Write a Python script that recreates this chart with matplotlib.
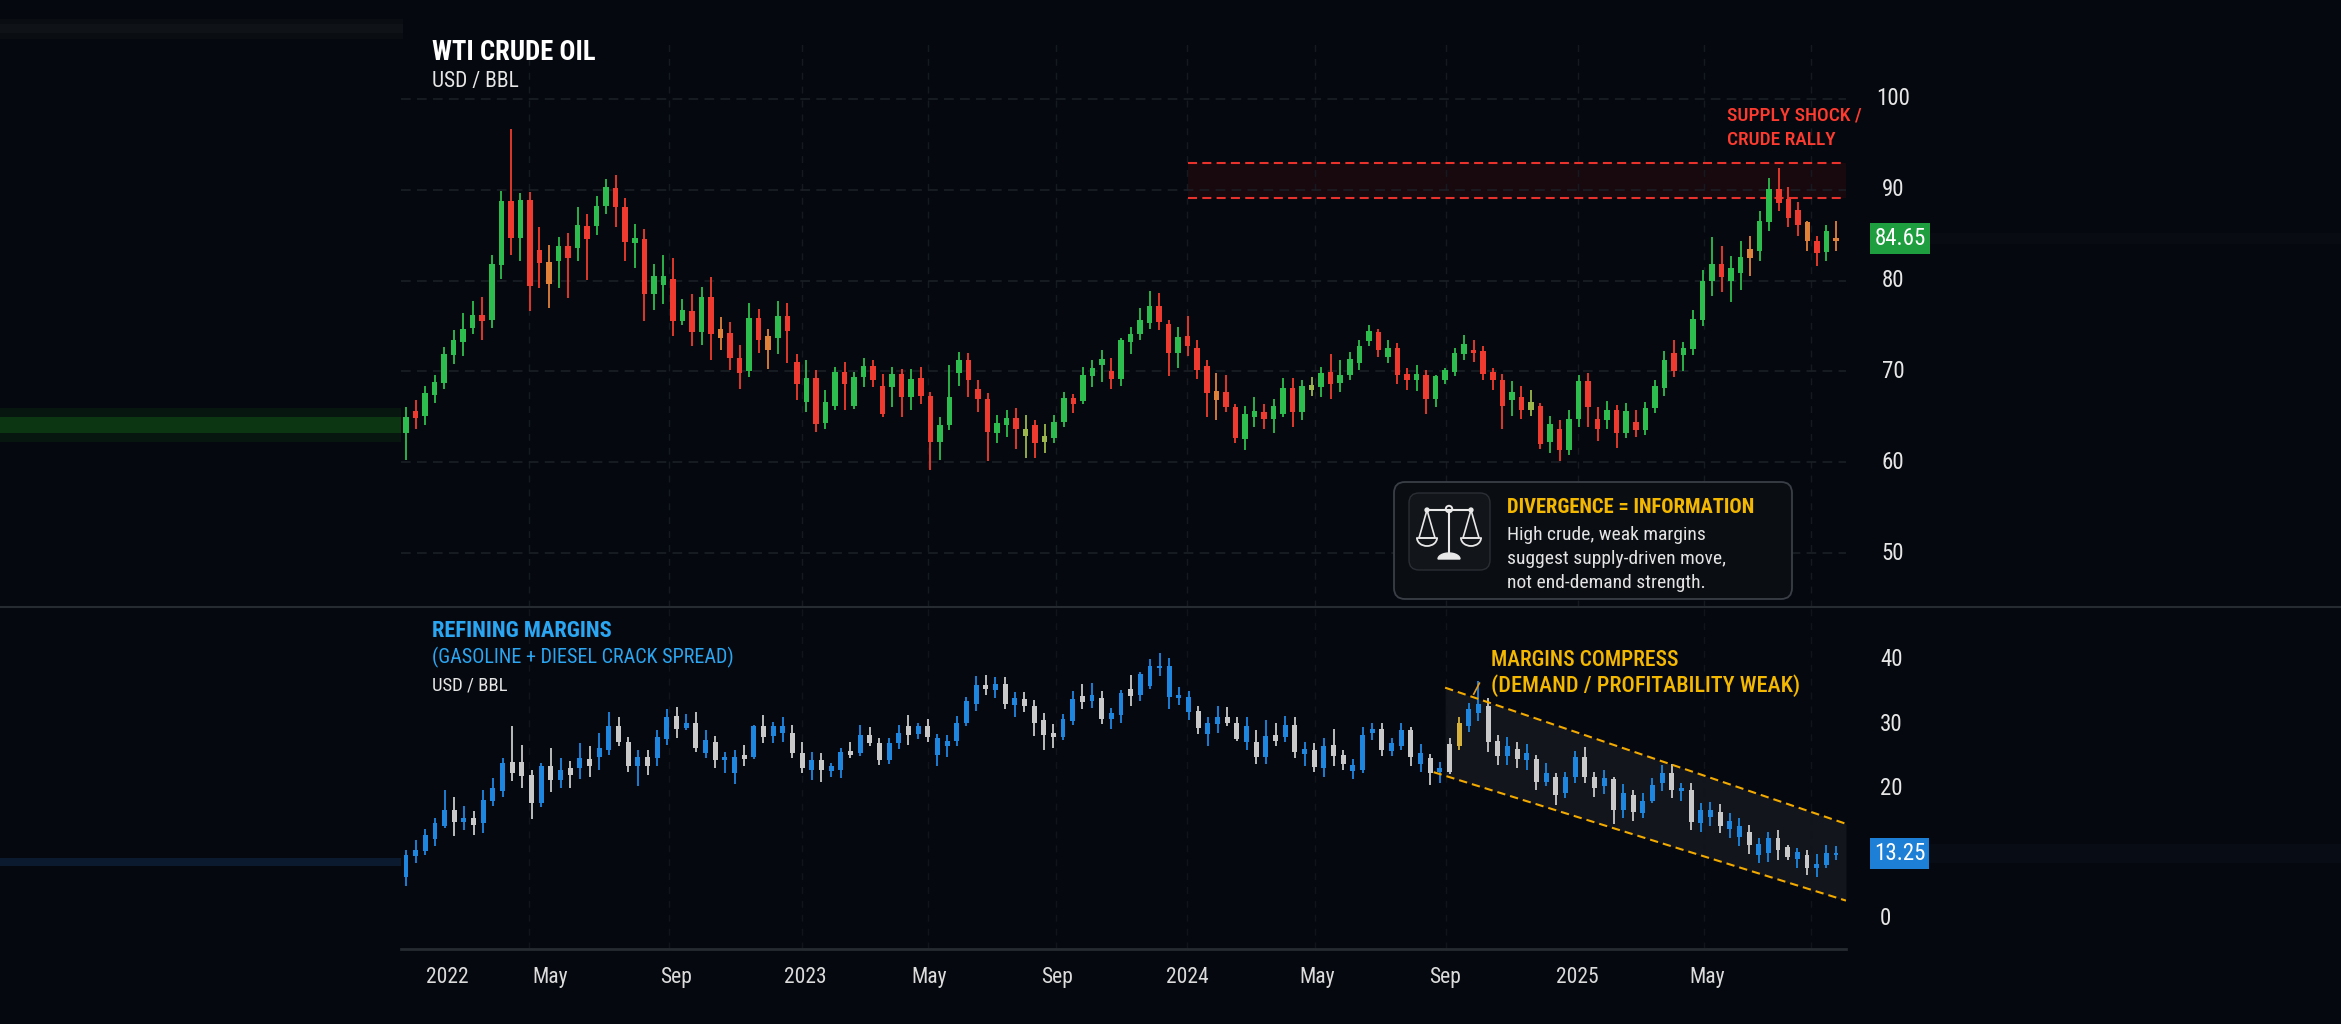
import matplotlib
matplotlib.use("Agg")
import matplotlib.pyplot as plt
from matplotlib import font_manager
from matplotlib.patches import FancyBboxPatch, Circle, Arc, Polygon
from matplotlib.transforms import blended_transform_factory
import numpy as np

W, H = 2341, 1024

# ---------------- data ----------------
# WTI crude, weekly candles (USD/bbl)
crude_open = [63.2, 65.6, 65.1, 67.4, 68.7, 71.8, 73.2, 74.8, 76.2, 75.7,
              81.7, 88.7, 84.7, 88.9, 83.4, 82.0, 82.2, 83.8, 83.6, 86.0,
              86.0, 88.2, 90.2, 88.1, 84.1, 84.6, 78.5, 79.5, 80.2, 75.6,
              76.7, 74.3, 78.2, 74.7, 74.2, 71.5, 70.0, 75.9, 73.9, 73.7,
              76.1, 71.0, 66.6, 69.3, 64.3, 66.2, 69.9, 66.2, 69.4, 70.6,
              68.4, 68.3, 69.7, 67.2, 69.3, 67.3, 62.2, 64.1, 69.8, 71.3,
              68.1, 67.0, 63.2, 64.1, 64.9, 62.9, 64.1, 62.2, 62.7, 64.4,
              67.1, 66.7, 69.5, 70.7, 70.0, 69.2, 73.2, 74.1, 75.3, 77.2,
              75.2, 72.0, 73.9, 72.6, 70.6, 67.8, 67.7, 66.1, 62.6, 65.0,
              65.5, 64.8, 65.3, 68.2, 65.5, 68.0, 68.3, 69.9, 68.7, 69.6,
              70.9, 73.3, 74.3, 71.6, 72.6, 69.7, 69.0, 69.6, 67.0, 69.1,
              69.9, 71.9, 72.3, 72.2, 69.9, 69.1, 66.8, 67.2, 65.8, 66.2,
              62.2, 63.7, 61.3, 64.8, 68.9, 64.8, 64.7, 65.7, 63.2, 64.4,
              63.6, 66.0, 68.2, 72.0, 71.8, 72.5, 75.7, 79.9, 81.8, 80.0,
              80.8, 82.5, 83.3, 86.4, 90.1, 89.0, 87.8, 86.4, 84.4, 83.1,
              84.4]
crude_high = [66.1, 66.8, 68.4, 69.6, 72.7, 74.6, 76.4, 77.7, 78.2, 82.8,
              89.9, 96.7, 89.6, 89.7, 85.9, 83.9, 84.8, 85.2, 88.1, 87.3,
              89.3, 91.2, 91.6, 89.1, 86.2, 85.7, 81.8, 82.8, 82.5, 78.0,
              78.5, 79.3, 80.4, 76.0, 75.4, 72.9, 77.5, 76.9, 74.7, 77.7,
              77.5, 71.9, 71.2, 70.1, 67.9, 70.5, 71.0, 69.9, 71.5, 71.2,
              69.7, 70.5, 70.3, 70.3, 70.5, 67.7, 65.0, 70.7, 72.1, 72.0,
              69.0, 67.6, 65.2, 65.7, 66.0, 65.2, 64.7, 64.2, 65.2, 67.7,
              67.5, 70.5, 71.2, 72.3, 71.5, 73.7, 74.9, 77.0, 78.9, 78.6,
              75.7, 74.9, 76.1, 73.4, 71.3, 69.8, 69.6, 66.4, 66.2, 67.2,
              66.4, 67.0, 69.3, 69.3, 69.1, 69.4, 70.5, 71.9, 71.2, 72.1,
              73.4, 75.1, 74.7, 73.4, 73.1, 70.4, 70.7, 70.2, 69.6, 70.4,
              72.6, 74.0, 73.4, 72.8, 70.4, 69.7, 68.9, 68.4, 68.0, 66.5,
              65.1, 64.6, 65.8, 69.6, 69.8, 66.1, 66.7, 66.3, 66.5, 65.7,
              66.6, 69.0, 72.2, 73.4, 73.2, 76.8, 81.2, 84.8, 83.8, 82.7,
              84.3, 84.9, 87.6, 91.3, 92.4, 90.3, 88.6, 86.5, 84.9, 86.1,
              86.6]
crude_low = [60.2, 63.7, 64.1, 66.5, 68.1, 70.8, 71.7, 74.1, 73.4, 74.8,
             80.2, 82.8, 82.1, 76.7, 79.2, 77.0, 79.2, 78.1, 82.1, 80.1,
             85.0, 87.3, 85.9, 82.2, 81.4, 75.5, 76.8, 77.4, 73.9, 75.1,
             72.8, 72.9, 71.2, 72.3, 70.1, 68.1, 69.4, 72.0, 70.3, 71.9,
             70.9, 66.8, 65.5, 63.3, 63.7, 65.7, 65.7, 65.9, 68.3, 68.3,
             65.0, 66.1, 65.0, 65.8, 66.4, 59.1, 60.2, 63.5, 68.4, 67.2,
             65.5, 60.1, 62.1, 62.8, 61.5, 60.5, 60.5, 61.0, 62.1, 63.9,
             65.4, 66.4, 68.3, 68.8, 68.1, 68.4, 71.9, 73.5, 74.7, 74.6,
             69.5, 70.4, 71.7, 69.2, 65.0, 64.7, 65.5, 62.1, 61.3, 63.9,
             63.7, 63.2, 65.0, 63.9, 64.6, 67.3, 67.2, 67.0, 67.7, 69.1,
             70.1, 72.8, 71.6, 70.9, 68.6, 68.0, 67.8, 65.3, 66.1, 68.6,
             69.5, 71.3, 71.0, 69.0, 67.9, 63.7, 65.1, 64.8, 65.1, 61.5,
             61.0, 60.1, 60.8, 63.9, 63.9, 62.3, 63.7, 61.6, 62.7, 62.8,
             63.0, 65.4, 67.3, 69.4, 70.0, 71.8, 75.0, 78.3, 78.7, 77.6,
             79.0, 80.5, 82.2, 85.5, 87.7, 85.9, 84.9, 83.2, 81.6, 82.2,
             83.3]
crude_close = [65.0, 64.9, 67.6, 68.8, 71.9, 73.4, 74.7, 76.2, 75.6, 81.8,
               88.7, 84.7, 88.9, 79.4, 81.9, 79.6, 83.8, 82.5, 86.1, 84.6,
               88.2, 90.3, 88.1, 84.2, 84.7, 78.5, 80.5, 80.5, 75.6, 76.8,
               74.3, 78.2, 74.1, 73.7, 71.5, 69.8, 75.9, 73.5, 72.4, 76.1,
               74.4, 68.6, 69.3, 64.2, 66.6, 69.9, 68.6, 69.4, 70.6, 69.1,
               65.3, 69.7, 67.2, 69.2, 67.3, 62.2, 64.1, 67.2, 71.3, 69.0,
               67.0, 63.3, 64.3, 64.9, 63.7, 63.7, 62.1, 62.9, 64.4, 67.1,
               66.4, 69.6, 70.4, 71.4, 69.2, 73.5, 74.1, 75.7, 77.2, 75.4,
               72.0, 73.8, 72.8, 70.1, 67.6, 66.9, 66.1, 62.7, 65.3, 65.6,
               64.8, 66.2, 68.2, 65.5, 68.4, 68.5, 69.8, 68.6, 69.6, 71.4,
               72.8, 74.4, 72.3, 72.6, 69.6, 69.0, 69.7, 67.0, 69.5, 70.1,
               72.0, 73.0, 72.0, 69.7, 69.0, 66.2, 67.7, 65.8, 66.6, 62.0,
               64.2, 61.3, 64.8, 68.9, 66.1, 63.7, 65.7, 63.2, 65.6, 63.6,
               66.0, 68.4, 71.3, 70.0, 72.6, 75.8, 79.9, 81.8, 80.4, 81.4,
               82.6, 83.5, 86.6, 90.1, 88.5, 86.9, 86.1, 84.4, 83.0, 85.5,
               84.65]
crude_orange = [15, 33, 38, 85, 141, 147, 150]   # near-doji candles drawn orange
crude_olive = [65, 67, 95, 118]

# Refining margins (gasoline + diesel crack spread), weekly candles (USD/bbl)
margin_open = [6.3, 9.6, 10.4, 12.2, 14.3, 16.7, 14.9, 15.5, 14.7, 18.2,
               19.7, 24.2, 24.2, 22.2, 17.8, 23.6, 21.4, 23.2, 23.2, 24.7,
               24.9, 26.1, 29.8, 27.3, 23.6, 24.9, 24.8, 27.8, 31.3, 29.4,
               30.3, 25.5, 27.3, 24.5, 22.4, 25.3, 24.9, 29.7, 28.2, 28.6,
               28.7, 25.5, 22.9, 24.5, 22.8, 22.9, 25.9, 25.5, 28.4, 27.1,
               24.5, 27.1, 29.7, 28.5, 29.7, 25.3, 26.6, 27.4, 30.3, 33.2,
               36.1, 35.3, 36.3, 33.0, 34.0, 32.9, 30.7, 28.6, 28.1, 30.6,
               34.4, 33.6, 34.1, 30.8, 31.5, 35.5, 34.6, 35.9, 38.7, 34.2,
               34.1, 32.0, 32.1, 28.5, 30.1, 31.1, 30.2, 27.3, 27.3, 25.0,
               28.4, 28.1, 29.9, 25.4, 26.1, 23.2, 26.8, 25.3, 22.8, 22.9,
               28.6, 29.3, 25.9, 26.7, 29.1, 23.9, 24.8, 22.7, 27.0, 26.6,
               29.7, 31.7, 32.9, 27.4, 25.1, 26.2, 24.5, 24.6, 21.1, 21.8,
               19.3, 21.9, 25.0, 21.8, 20.5, 21.5, 16.7, 19.1, 16.3, 18.2,
               21.0, 22.4, 19.7, 19.9, 14.7, 15.6, 16.5, 13.8, 12.5, 13.3,
               9.8, 10.0, 12.4, 11.0, 9.1, 9.7, 7.7, 8.2, 9.7]
margin_high = [10.5, 12.1, 13.8, 15.5, 19.9, 18.7, 17.3, 16.6, 19.9, 21.7,
               24.8, 29.7, 26.8, 22.9, 24.0, 26.4, 24.8, 24.4, 27.2, 26.6,
               28.6, 32.0, 31.1, 28.0, 26.0, 26.1, 29.1, 32.4, 32.7, 31.6,
               32.0, 29.1, 28.2, 25.8, 26.1, 26.8, 29.9, 31.5, 30.4, 31.2,
               29.9, 27.3, 25.8, 25.5, 24.0, 26.3, 27.3, 29.9, 29.6, 27.9,
               27.9, 29.9, 31.5, 30.3, 30.8, 28.5, 28.4, 31.3, 34.3, 37.5,
               37.6, 37.4, 37.3, 35.1, 35.1, 33.8, 31.7, 30.0, 31.6, 35.2,
               36.3, 36.4, 35.2, 32.5, 35.3, 37.7, 38.2, 40.2, 41.0, 40.3,
               35.8, 35.2, 32.8, 31.1, 32.8, 32.7, 31.1, 31.1, 29.1, 30.7,
               30.3, 31.3, 31.1, 27.3, 27.1, 27.9, 29.3, 26.0, 24.6, 29.6,
               30.3, 30.3, 27.9, 30.3, 29.6, 26.9, 25.4, 24.2, 27.9, 31.1,
               33.3, 36.8, 34.1, 28.4, 28.0, 27.3, 26.9, 25.3, 24.1, 22.4,
               22.7, 25.9, 26.5, 22.7, 22.9, 21.9, 20.8, 19.9, 19.3, 21.7,
               23.7, 23.9, 20.9, 21.0, 17.8, 18.0, 17.7, 16.3, 15.5, 14.4,
               12.4, 13.3, 13.6, 11.3, 10.8, 10.5, 9.9, 11.3, 11.1]
margin_low = [4.9, 8.5, 9.7, 11.2, 13.9, 12.7, 13.7, 12.9, 13.2, 17.3,
              18.8, 21.3, 20.1, 15.3, 17.2, 19.6, 20.1, 20.1, 21.5, 21.9,
              22.9, 25.3, 26.6, 22.7, 20.4, 22.2, 23.5, 26.8, 27.9, 29.1,
              25.8, 24.8, 23.2, 22.5, 20.8, 23.5, 24.6, 27.2, 27.2, 27.3,
              24.8, 22.5, 21.4, 21.1, 21.9, 21.7, 24.8, 25.1, 26.6, 23.7,
              23.9, 26.2, 26.8, 27.7, 27.3, 23.6, 25.0, 26.6, 29.8, 32.1,
              34.6, 34.1, 32.4, 31.1, 32.0, 28.2, 26.1, 26.3, 27.6, 29.9,
              32.4, 32.5, 30.0, 29.3, 30.3, 32.9, 33.6, 35.5, 37.5, 32.4,
              33.0, 30.7, 28.5, 26.6, 28.6, 29.7, 27.4, 26.0, 23.9, 23.9,
              26.6, 27.3, 24.8, 23.5, 22.7, 21.8, 23.5, 22.9, 21.5, 22.4,
              27.6, 25.1, 25.1, 26.1, 23.5, 22.7, 20.6, 21.0, 22.3, 26.1,
              28.9, 30.6, 25.8, 23.7, 23.7, 23.2, 23.0, 19.9, 20.4, 17.5,
              18.6, 21.0, 21.0, 18.8, 19.2, 14.6, 15.5, 15.1, 15.5, 17.8,
              19.7, 18.6, 18.2, 13.6, 13.4, 14.2, 13.1, 12.4, 11.1, 9.9,
              8.5, 8.7, 9.0, 9.0, 7.7, 6.7, 6.4, 7.7, 9.0]
margin_close = [9.8, 10.5, 12.9, 14.7, 16.8, 14.9, 15.5, 14.4, 18.3, 20.1,
                24.1, 22.5, 22.0, 17.8, 23.5, 21.4, 22.9, 22.2, 24.8, 23.5,
                26.3, 29.8, 27.3, 23.6, 24.9, 23.6, 28.0, 31.2, 29.3, 30.3,
                26.3, 27.6, 24.5, 25.0, 24.9, 24.6, 29.7, 28.1, 29.7, 29.8,
                25.5, 23.2, 24.5, 22.9, 23.5, 25.8, 25.3, 28.3, 27.1, 24.5,
                27.1, 28.6, 28.4, 29.7, 28.0, 27.9, 27.4, 30.3, 33.6, 36.1,
                35.5, 36.3, 33.2, 34.1, 32.8, 30.2, 28.4, 28.1, 30.8, 33.9,
                33.5, 34.5, 30.8, 31.7, 34.9, 34.4, 37.8, 39.0, 39.1, 39.1,
                34.6, 34.3, 29.4, 30.2, 31.1, 30.2, 27.7, 29.7, 25.0, 28.2,
                27.5, 29.9, 25.8, 26.2, 23.4, 26.6, 25.1, 23.9, 23.7, 28.4,
                29.3, 26.0, 27.1, 29.1, 24.9, 25.6, 22.4, 23.2, 22.7, 30.2,
                32.4, 33.2, 27.3, 25.1, 26.7, 24.6, 25.6, 21.1, 22.4, 19.1,
                21.9, 25.0, 21.8, 20.1, 21.7, 16.7, 19.4, 16.4, 18.2, 20.6,
                22.5, 19.8, 20.1, 14.9, 16.7, 16.7, 14.3, 15.0, 14.2, 11.3,
                11.5, 12.4, 10.5, 9.5, 10.3, 7.7, 8.4, 10.0, 10.0]
margin_gold = [109]
margin_last_label = "13.25"

# axes / annotation values
crude_ticks = [50, 60, 70, 80, 90, 100]
margin_ticks = [0, 20, 30, 40]          # the 10 level sits under the last-price tag
date_labels = ["2022", "May", "Sep", "2023", "May", "Sep", "2024", "May", "Sep", "2025", "May"]
date_label_pos = [4.3, 15.1, 28.3, 41.9, 54.9, 68.3, 82.0, 95.6, 109.0, 122.9, 136.5]
grid_pos = [12.9, 27.6, 41.5, 54.8, 68.2, 81.9, 95.4, 109.1, 122.9, 136.2, 147.4]

zone_start, zone_lo, zone_hi = 82.0, 89.1, 92.9          # supply-shock zone
chan_up_x, chan_up_y = [109.0, 151.05], [35.7, 14.6]     # falling channel (margins)
chan_lo_x, chan_lo_y = [107.8, 151.05], [22.6, 2.7]
margin_band = (8.1, 9.3)                                  # faint band left of margin panel

# ---------------- style ----------------
installed = {f.name for f in font_manager.fontManager.ttflist}
FONT = next((f for f in ["Roboto Condensed", "Liberation Sans Narrow", "Roboto"] if f in installed),
            "DejaVu Sans")
plt.rcParams["font.family"] = [FONT, "DejaVu Sans"]
plt.rcParams["lines.scale_dashes"] = False

BG = "#05080e"
GREEN, RED, ORANGE, OLIVE = "#2dbd4e", "#ef3a2f", "#e0813a", "#9cb84c"
BLUE, GREY, GOLD = "#1f86e0", "#c9c9c9", "#d6b13c"
TXT = "#e6e6e6"
RED_TXT, GOLD_TXT, BLUE_TXT = "#ff3b30", "#f5b800", "#2aa6f2"
GRID = "#1c2027"

fig = plt.figure(figsize=(W / 100, H / 100), dpi=100, facecolor=BG)

left, width = 401 / W, 1445 / W
ax1 = fig.add_axes([left, 1 - 607 / H, width, 565 / H])
ax2 = fig.add_axes([left, 1 - 949 / H, width, 342 / H])
XMIN, XMAX = -0.524, 151.05
RIGHT_X0, RIGHT_X1 = 1.0574, 1.3426      # band to the right of the price tags (axes fraction)


def draw_candles(ax, x, o, h, l, c, colors, w, min_h):
    o, h, l, c = (np.asarray(v, dtype=float) for v in (o, h, l, c))
    ax.vlines(x, l, h, colors=colors, linewidth=1.3, zorder=3)
    ax.bar(x, np.maximum(np.abs(c - o), min_h), w, bottom=np.minimum(o, c),
           color=colors, linewidth=0, zorder=4)


# --- top panel: crude ---
xc = np.arange(len(crude_close))
col_c = np.where(np.array(crude_close) >= np.array(crude_open), GREEN, RED).astype(object)
col_c[crude_orange] = ORANGE
col_c[crude_olive] = OLIVE
draw_candles(ax1, xc, crude_open, crude_high, crude_low, crude_close, list(col_c), 0.58, 0.22)

ax1.fill_between([zone_start, XMAX], zone_lo, zone_hi, color="#ff2020", alpha=0.08, lw=0, zorder=1)
ax1.hlines([zone_lo, zone_hi], zone_start, XMAX, colors="#e8322b", linestyles=(0, (6.5, 3.8)),
           linewidth=1.5, zorder=2)

ax1.set_xlim(XMIN, XMAX)
ax1.set_ylim(44.08, 106.24)
ax1.set_yticks(crude_ticks)
ax1.tick_params(axis="y", length=0, labelleft=False, labelright=False)
ax1.set_xticks(grid_pos, minor=True)
ax1.set_xticks([])
ax1.tick_params(axis="x", which="both", length=0, labelbottom=False)
ax1.grid(axis="y", which="major", color=GRID, linestyle=(0, (7, 4.5)), linewidth=1.1)
ax1.grid(axis="x", which="minor", color="#151920", linestyle=(0, (5, 5)), linewidth=1.0)

blend1 = blended_transform_factory(ax1.transAxes, ax1.transData)
for v in crude_ticks:
    ax1.text(1.0325, v, f"{v}", transform=blend1, ha="center", va="center", fontsize=16.5, color=TXT)

# green band projecting the first candle's body to the left edge
ax1.axhspan(crude_open[0] - 1.0, crude_close[0] + 1.0, xmin=-0.278, xmax=0.0, clip_on=False,
            color="#09200e", alpha=0.6, lw=0, zorder=0)
ax1.axhspan(crude_open[0], crude_close[0], xmin=-0.278, xmax=0.0, clip_on=False,
            color="#0c3512", lw=0, zorder=0)
ax1.axhspan(crude_close[-1] - 0.6, crude_close[-1] + 0.6, xmin=RIGHT_X0, xmax=RIGHT_X1, clip_on=False,
            color="#080b11", lw=0, zorder=0)

ax1.text(1.0374, crude_close[-1], f"{crude_close[-1]:.2f}", transform=blend1, ha="center", va="center",
         fontsize=16.5, color="white", zorder=6,
         bbox=dict(boxstyle="square,pad=0.18", fc="#1f9e3f", ec="none"))

# --- bottom panel: refining margins ---
xm = np.linspace(0, len(crude_close) - 1, len(margin_close))
col_m = np.where(np.array(margin_close) >= np.array(margin_open), BLUE, GREY).astype(object)
col_m[margin_gold] = GOLD
draw_candles(ax2, xm, margin_open, margin_high, margin_low, margin_close, list(col_m), 0.52, 0.3)

cx = np.linspace(chan_up_x[0], chan_up_x[1], 50)
ax2.fill_between(cx, np.interp(cx, chan_lo_x, chan_lo_y), np.interp(cx, chan_up_x, chan_up_y),
                 color="#ffffff", alpha=0.055, lw=0, zorder=1)
for xs, ys in ((chan_up_x, chan_up_y), (chan_lo_x, chan_lo_y)):
    ax2.plot(xs, ys, color="#f2a900", linestyle=(0, (6, 3.6)), linewidth=1.5, zorder=5)
ax2.plot([112.0, 112.6], [34.7, 36.4], color="#e39b1c", linewidth=1.2, zorder=5)

ax2.set_xlim(XMIN, XMAX)
ax2.set_ylim(-4.8, 48.2)
ax2.set_yticks(margin_ticks)
ax2.tick_params(axis="y", length=0, labelleft=False, labelright=False)
ax2.set_xticks(date_label_pos)
ax2.set_xticklabels(date_labels)
ax2.set_xticks([4.3] + grid_pos, minor=True)
ax2.tick_params(axis="x", which="major", length=0, pad=13, labelsize=15.5, labelcolor="#dcdcdc")
ax2.tick_params(axis="x", which="minor", length=0)
ax2.grid(axis="x", which="minor", color="#11151b", linestyle=(0, (5, 5)), linewidth=1.0)

blend2 = blended_transform_factory(ax2.transAxes, ax2.transData)
for v in margin_ticks:
    ax2.text(1.0235, v, f"{v}", transform=blend2, ha="left", va="center", fontsize=16.5, color=TXT)

ax2.axhspan(*margin_band, xmin=-0.278, xmax=0.0, clip_on=False, color="#0c1a30", lw=0, zorder=0)
ax2.axhspan(margin_close[-1] - 1.4, margin_close[-1] + 1.4, xmin=RIGHT_X0, xmax=RIGHT_X1,
            clip_on=False, color="#070c15", lw=0, zorder=0)

ax2.text(1.037, margin_close[-1], margin_last_label, transform=blend2, ha="center", va="center",
         fontsize=16.5, color="white", zorder=6,
         bbox=dict(boxstyle="square,pad=0.18", fc="#1e7fd6", ec="none"))

for ax in (ax1, ax2):
    ax.set_facecolor("none")
    for s in ax.spines.values():
        s.set_visible(False)
ax2.spines["bottom"].set_visible(True)
ax2.spines["bottom"].set_color("#262a31")
ax2.spines["bottom"].set_linewidth(2)

# ---------------- overlay (pixel coordinates) ----------------
ov = fig.add_axes([0, 0, 1, 1], zorder=10)
ov.set_xlim(0, W)
ov.set_ylim(H, 0)
ov.axis("off")
ov.patch.set_alpha(0)

ov.add_patch(plt.Rectangle((0, 19), 403, 20, color="#0a0d12", lw=0))
ov.add_patch(plt.Rectangle((0, 24), 403, 9, color="#0f1318", lw=0))
ov.plot([0, W], [607, 607], color="#262a31", linewidth=1.5)

ov.text(432, 60, "WTI CRUDE OIL", fontsize=19.2, fontweight="bold", color="white", va="baseline")
ov.text(432, 86.5, "USD / BBL", fontsize=15.5, color=TXT, va="baseline")
ov.text(1727, 120, "SUPPLY SHOCK /", fontsize=14, fontweight="medium", color=RED_TXT, va="baseline")
ov.text(1727, 145, "CRUDE RALLY", fontsize=14, fontweight="medium", color=RED_TXT, va="baseline")

ov.text(432, 637, "REFINING MARGINS", fontsize=16.2, fontweight="bold", color=BLUE_TXT, va="baseline")
ov.text(432, 663, "(GASOLINE + DIESEL CRACK SPREAD)", fontsize=14.5, color=BLUE_TXT, va="baseline")
ov.text(432, 690, "USD / BBL", fontsize=13.5, color=TXT, va="baseline")
ov.text(1491, 666, "MARGINS COMPRESS", fontsize=15.5, fontweight="medium", color=GOLD_TXT,
        va="baseline")
ov.text(1491, 692, "(DEMAND / PROFITABILITY WEAK)", fontsize=16, fontweight="medium", color=GOLD_TXT,
        va="baseline")

# divergence info box
ov.add_patch(FancyBboxPatch((1394, 482), 398, 117, boxstyle="round,pad=0,rounding_size=11",
                            fc="#0a0d12", ec="#3a3e46", lw=1.3))
ov.add_patch(FancyBboxPatch((1409, 493), 81, 77, boxstyle="round,pad=0,rounding_size=10",
                            fc="#121519", ec="#2b2f35", lw=1.0))
ic = "#e8e8e8"
ov.plot([1426, 1472], [510, 510], color=ic, lw=1.5)
ov.plot([1449, 1449], [512, 555], color=ic, lw=1.5)
ov.add_patch(Circle((1449, 509), 3.2, fc="#121519", ec=ic, lw=1.4))
for px in (1427, 1471):
    ov.add_patch(Circle((px, 510), 1.8, fc="#121519", ec=ic, lw=1.2))
    ov.plot([px, px - 8, px - 8, px + 8, px], [510, 538, 538, 538, 510], color=ic, lw=1.2)
    ov.plot([px - 10, px + 10], [538, 538], color=ic, lw=1.2)
    ov.add_patch(Arc((px, 538), 20, 16, theta1=0, theta2=180, color=ic, lw=1.3))
t = np.linspace(np.pi, 2 * np.pi, 20)
ov.add_patch(Polygon(np.column_stack([1449 + 11 * np.cos(t), 559 + 6 * np.sin(t)]),
                     closed=True, fc=ic, ec=ic, lw=1))

ov.text(1507, 513, "DIVERGENCE = INFORMATION", fontsize=14.8, fontweight="bold", color=GOLD_TXT,
        va="baseline")
for i, line in enumerate(["High crude, weak margins", "suggest supply-driven move,",
                          "not end-demand strength."]):
    ov.text(1507, 540 + 24 * i, line, fontsize=14, color="#e4e4e4", va="baseline")

fig.savefig("out.png", dpi=100, facecolor=BG)
